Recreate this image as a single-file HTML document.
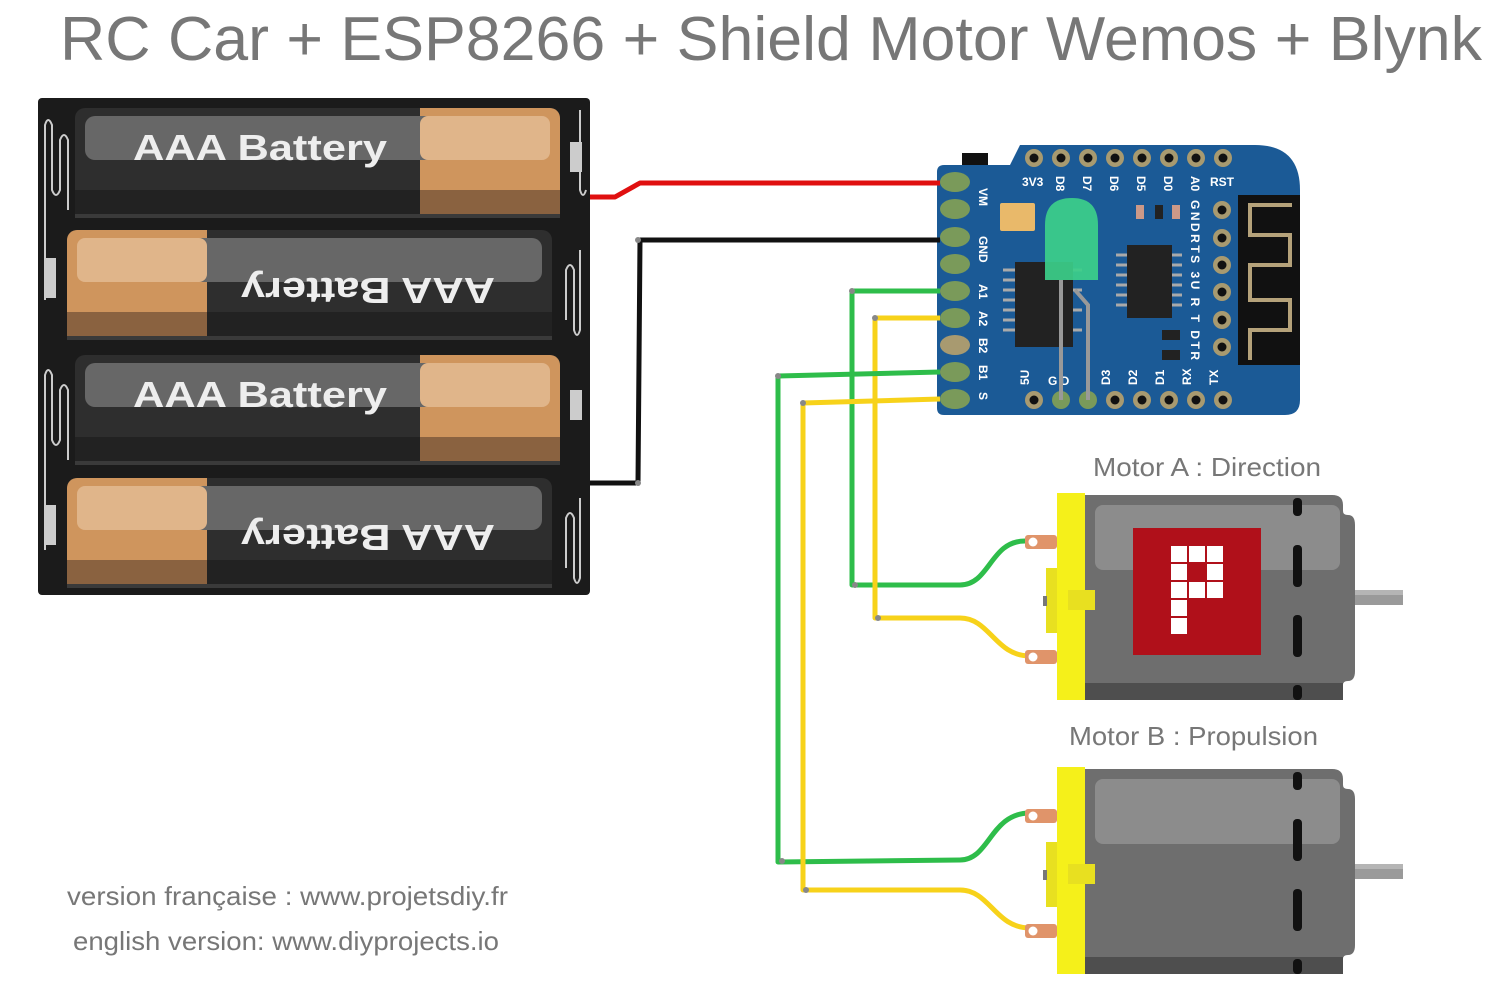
<!DOCTYPE html>
<html><head><meta charset="utf-8"><style>
html,body{margin:0;padding:0;background:#fff;}
svg{display:block;}
text{font-family:"Liberation Sans",sans-serif;}
</style></head><body>
<svg width="1502" height="1001" viewBox="0 0 1502 1001" xmlns="http://www.w3.org/2000/svg">
<defs>
<g id="bat">
  <rect x="0" y="0" width="485" height="110" rx="10" fill="#2e2e2e"/>
  <rect x="345" y="0" width="140" height="110" rx="10" fill="#cf955d"/>
  <rect x="345" y="0" width="20" height="110" fill="#cf955d"/>
  <rect x="345" y="82" width="140" height="28" fill="#8a6240"/>
  <rect x="10" y="8" width="465" height="44" rx="10" fill="#676767"/>
  <rect x="345" y="8" width="130" height="44" rx="8" fill="#e0b58a"/>
  <rect x="0" y="82" width="345" height="28" fill="#222"/>
  <rect x="0" y="106" width="485" height="4" fill="#3a3a3a"/>
</g>
<g id="motor">
  <path d="M28 2 H275 Q286 2 286 12 V18 Q286 22 291 22 Q298 22 298 32 V178 Q298 188 291 188 Q286 188 286 192 V205 H28 Z" fill="#6e6e6e"/>
  <rect x="38" y="12" width="245" height="65" rx="8" fill="#8c8c8c"/>
  <rect x="28" y="190" width="258" height="17" fill="#4e4e4e"/>
  <rect x="298" y="97" width="48" height="15" fill="#9a9a9a"/>
  <rect x="298" y="97" width="48" height="5" fill="#b5b5b5"/>
  <rect x="236" y="5" width="9" height="18" rx="4" fill="#111"/>
  <rect x="236" y="52" width="9" height="42" rx="4" fill="#111"/>
  <rect x="236" y="122" width="9" height="42" rx="4" fill="#111"/>
  <rect x="236" y="192" width="9" height="15" rx="4" fill="#111"/>
  <rect x="-11" y="75" width="22" height="65" fill="#e8e020"/>
  <rect x="0" y="0" width="28" height="207" fill="#f5f01a"/>
  <rect x="11" y="97" width="27" height="20" fill="#e8e020"/>
  <rect x="-14" y="103" width="4" height="10" fill="#777"/>
  <rect x="-32" y="42" width="32" height="14" rx="3" fill="#e0946a"/>
  <circle cx="-24" cy="49" r="4.5" fill="#fff"/>
  <rect x="-32" y="157" width="32" height="14" rx="3" fill="#e0946a"/>
  <circle cx="-24" cy="164" r="4.5" fill="#fff"/>
</g>
<g id="pin"><circle r="9" fill="#a89a70"/><circle r="4.5" fill="#111"/></g>
</defs>

<text x="60" y="60" font-size="62" fill="#777" textLength="1422" lengthAdjust="spacingAndGlyphs">RC Car + ESP8266 + Shield Motor Wemos + Blynk</text>

<rect x="38" y="98" width="552" height="497" rx="4" fill="#1b1b1b"/>
<use href="#bat" x="75" y="108"/>
<use href="#bat" transform="translate(552,230) scale(-1,1)"/>
<use href="#bat" x="75" y="355"/>
<use href="#bat" transform="translate(552,478) scale(-1,1)"/>
<g font-weight="bold" font-size="36" fill="#eee">
<text x="133" y="160" textLength="254" lengthAdjust="spacingAndGlyphs">AAA Battery</text>
<text x="133" y="407" textLength="254" lengthAdjust="spacingAndGlyphs">AAA Battery</text>
<text transform="translate(495,278) rotate(180)" textLength="254" lengthAdjust="spacingAndGlyphs">AAA Battery</text>
<text transform="translate(495,525) rotate(180)" textLength="254" lengthAdjust="spacingAndGlyphs">AAA Battery</text>
</g>
<g fill="none" stroke="#ccc" stroke-width="2">
<path d="M45 300 V125 Q48 115 52 125 V190 Q56 200 60 190 V140 Q64 130 68 140 V210"/>
<path d="M45 550 V375 Q48 365 52 375 V440 Q56 450 60 440 V390 Q64 380 68 390 V460"/>
<path d="M580 110 V190 Q583 200 586 190"/>
<path d="M580 250 V330 Q577 340 574 330 V270 Q570 260 566 270 V320"/>
<path d="M580 498 V578 Q577 588 574 578 V518 Q570 508 566 518 V568"/>
</g>
<g fill="#ccc">
<rect x="570" y="142" width="12" height="30"/><rect x="44" y="258" width="12" height="40"/>
<rect x="570" y="390" width="12" height="30"/><rect x="44" y="505" width="12" height="40"/>
</g>

<path d="M937 172 Q937 165 944 165 H1010 L1020 145 H1255 Q1300 145 1300 190 V400 Q1300 415 1285 415 H944 Q937 415 937 408 Z" fill="#1b5a96"/>
<rect x="962" y="153" width="26" height="12" fill="#111"/>
<g fill="#7a9a5a">
<ellipse cx="955" cy="182" rx="15" ry="10"/><ellipse cx="955" cy="209" rx="15" ry="10"/>
<ellipse cx="955" cy="237" rx="15" ry="10"/><ellipse cx="955" cy="264" rx="15" ry="10"/>
<ellipse cx="955" cy="291" rx="15" ry="10"/><ellipse cx="955" cy="318" rx="15" ry="10"/>
<ellipse cx="955" cy="345" rx="15" ry="10" fill="#a89a70"/><ellipse cx="955" cy="372" rx="15" ry="10"/>
<ellipse cx="955" cy="399" rx="15" ry="10"/>
</g>
<g font-size="12" fill="#fff" font-weight="bold">
<text transform="translate(979,188) rotate(90)">VM</text>
<text transform="translate(979,236) rotate(90)">GND</text>
<text transform="translate(979,284) rotate(90)">A1</text>
<text transform="translate(979,311) rotate(90)">A2</text>
<text transform="translate(979,338) rotate(90)">B2</text>
<text transform="translate(979,365) rotate(90)">B1</text>
<text transform="translate(979,392) rotate(90)">S</text>
<text x="1022" y="186">3V3</text><text x="1210" y="186">RST</text>
<text transform="translate(1056,176) rotate(90)">D8</text>
<text transform="translate(1083,176) rotate(90)">D7</text>
<text transform="translate(1110,176) rotate(90)">D6</text>
<text transform="translate(1137,176) rotate(90)">D5</text>
<text transform="translate(1164,176) rotate(90)">D0</text>
<text transform="translate(1191,176) rotate(90)">A0</text>
<text transform="translate(1191,200) rotate(90)" textLength="160" lengthAdjust="spacing">GNDRTS 3U  R   T  DTR</text>
<text transform="translate(1029,385) rotate(-90)">5U</text>
<text x="1048" y="385">G D</text>
<text transform="translate(1110,385) rotate(-90)">D3</text>
<text transform="translate(1137,385) rotate(-90)">D2</text>
<text transform="translate(1164,385) rotate(-90)">D1</text>
<text transform="translate(1191,385) rotate(-90)">RX</text>
<text transform="translate(1218,385) rotate(-90)">TX</text>
</g>
<use href="#pin" x="1034" y="158"/><use href="#pin" x="1061" y="158"/><use href="#pin" x="1088" y="158"/><use href="#pin" x="1115" y="158"/>
<use href="#pin" x="1142" y="158"/><use href="#pin" x="1169" y="158"/><use href="#pin" x="1196" y="158"/><use href="#pin" x="1223" y="158"/>
<use href="#pin" x="1034" y="400"/><use href="#pin" x="1115" y="400"/><use href="#pin" x="1142" y="400"/><use href="#pin" x="1169" y="400"/><use href="#pin" x="1196" y="400"/><use href="#pin" x="1223" y="400"/>
<circle cx="1061" cy="400" r="9" fill="#7a9a5a"/><circle cx="1088" cy="400" r="9" fill="#7a9a5a"/>
<use href="#pin" x="1222" y="210"/><use href="#pin" x="1222" y="238"/><use href="#pin" x="1222" y="265"/>
<use href="#pin" x="1222" y="292"/><use href="#pin" x="1222" y="320"/><use href="#pin" x="1222" y="347"/>
<rect x="1238" y="195" width="62" height="170" fill="#111"/>
<path d="M1292 205 H1250 V235 H1290 V265 H1250 V300 H1290 V330 H1250 V360" fill="none" stroke="#b5a27a" stroke-width="4"/>
<rect x="1000" y="203" width="35" height="28" rx="2" fill="#e9b96a"/>
<rect x="1015" y="262" width="58" height="85" fill="#222"/>
<g stroke="#aaa" stroke-width="3"><path d="M1003 270H1015M1003 280H1015M1003 290H1015M1003 300H1015M1003 310H1015M1003 320H1015M1003 330H1015M1073 270H1082M1073 290H1082M1073 310H1082M1073 330H1082"/></g>
<rect x="1127" y="245" width="45" height="73" fill="#222"/>
<g stroke="#aaa" stroke-width="3"><path d="M1116 255H1127M1116 265H1127M1116 275H1127M1116 285H1127M1116 295H1127M1116 305H1127M1172 255H1182M1172 265H1182M1172 275H1182M1172 285H1182M1172 295H1182M1172 305H1182"/></g>
<rect x="1136" y="205" width="8" height="14" fill="#c98"/><rect x="1155" y="205" width="8" height="14" fill="#222"/><rect x="1172" y="205" width="8" height="14" fill="#c98"/>
<rect x="1162" y="330" width="18" height="10" fill="#222"/><rect x="1162" y="350" width="18" height="10" fill="#222"/>
<path d="M1061 280 V400 M1075 290 L1088 305 V400" stroke="#999" stroke-width="4" fill="none"/>
<path d="M1045 225 Q1045 198 1072 198 Q1098 198 1098 225 V280 H1045 Z" fill="#3ccf8a" opacity="0.92"/>

<g fill="none" stroke-width="5" stroke-linejoin="round">
<path d="M590 197 H615 L640 183 H940" stroke="#e01010"/>
<path d="M590 483 H638 L640 240 H940" stroke="#111"/>
<path d="M940 291 H852 V585 H960 C990 585 990 541 1025 541" stroke="#2ebd4a"/>
<path d="M940 318 H875 V618 H960 C990 618 995 656 1030 656" stroke="#f7d21a"/>
<path d="M940 372 L778 376 V862 L960 860 C990 860 990 813 1030 813" stroke="#2ebd4a"/>
<path d="M940 399 L803 403 V890 L960 890 C990 890 995 928 1030 928" stroke="#f7d21a"/>
</g>
<g fill="#888"><circle cx="852" cy="291" r="3"/><circle cx="875" cy="318" r="3"/><circle cx="778" cy="376" r="3"/><circle cx="803" cy="403" r="3"/><circle cx="855" cy="585" r="3"/><circle cx="878" cy="618" r="3"/><circle cx="782" cy="861" r="3"/><circle cx="806" cy="890" r="3"/><circle cx="638" cy="240" r="3"/><circle cx="638" cy="483" r="3"/></g>

<use href="#motor" x="1057" y="493"/>
<use href="#motor" x="1057" y="767"/>
<rect x="1133" y="528" width="128" height="127" fill="#b0101a"/>
<g fill="#fff">
<rect x="1171" y="546" width="16" height="16"/><rect x="1189" y="546" width="16" height="16"/><rect x="1207" y="546" width="16" height="16"/>
<rect x="1171" y="564" width="16" height="16"/><rect x="1207" y="564" width="16" height="16"/>
<rect x="1171" y="582" width="16" height="16"/><rect x="1189" y="582" width="16" height="16"/><rect x="1207" y="582" width="16" height="16"/>
<rect x="1171" y="600" width="16" height="16"/><rect x="1171" y="618" width="16" height="16"/>
</g>
<g font-size="26" fill="#777">
<text x="1093" y="476" textLength="228" lengthAdjust="spacingAndGlyphs">Motor A : Direction</text>
<text x="1069" y="745" textLength="249" lengthAdjust="spacingAndGlyphs">Motor B : Propulsion</text>
<text x="67" y="905" textLength="441" lengthAdjust="spacingAndGlyphs">version française : www.projetsdiy.fr</text>
<text x="73" y="950" textLength="426" lengthAdjust="spacingAndGlyphs">english version: www.diyprojects.io</text>
</g>
</svg>
</body></html>
